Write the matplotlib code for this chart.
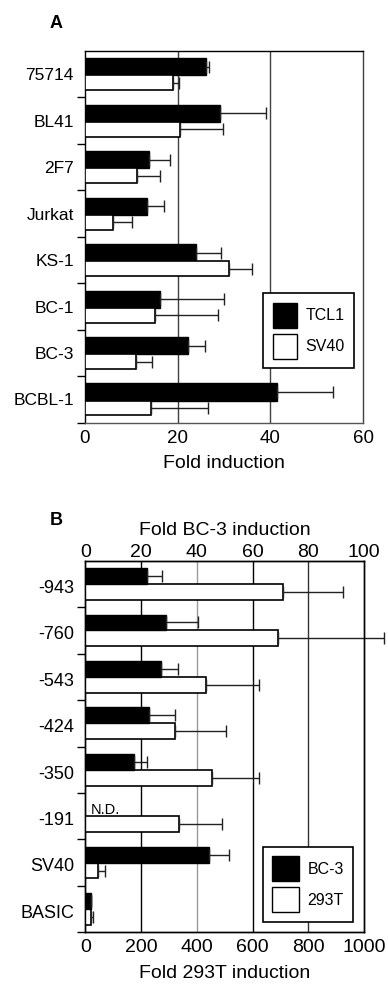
import matplotlib
matplotlib.use('Agg')
import matplotlib.pyplot as plt
import numpy as np
from matplotlib.patches import Patch

plt.rcParams['font.family'] = ['Liberation Sans', 'DejaVu Sans']

# ---------------- Panel A data ----------------
cells = ['75714', 'BL41', '2F7', 'Jurkat', 'KS-1', 'BC-1', 'BC-3', 'BCBL-1']
tcl1 = [26.1, 29.2, 13.8, 13.4, 24.0, 16.2, 22.3, 41.4]
tcl1_err = [0.7, 9.8, 4.6, 3.7, 5.4, 13.8, 3.5, 12.2]
sv40 = [19.1, 20.5, 11.2, 6.0, 31.0, 15.1, 11.0, 14.2]
sv40_err = [1.2, 9.3, 5.0, 4.1, 5.0, 13.7, 3.5, 12.3]
a_ticks = [0, 20, 40, 60]

# ---------------- Panel B data ----------------
constructs = ['-943', '-760', '-543', '-424', '-350', '-191', 'SV40', 'BASIC']
bc3 = [22.0, 28.8, 27.2, 22.9, 17.6, np.nan, 44.5, 2.0]
bc3_err = [5.4, 11.6, 6.2, 9.3, 4.5, np.nan, 6.9, 0.0]
t293 = [710, 690, 433, 322, 454, 337, 44, 22]
t293_err = [213, 382, 190, 184, 168, 155, 27, 7]
b_bottom_ticks = [0, 200, 400, 600, 800, 1000]
b_top_ticks = [0, 20, 40, 60, 80, 100]

W, H = 388, 988
fig = plt.figure(figsize=(W / 100, H / 100), dpi=100)

def frac(left, top, right, bottom):
    return [left / W, 1 - bottom / H, (right - left) / W, (bottom - top) / H]

err_kw = dict(fmt='none', ecolor='#222222', elinewidth=1, capsize=4, capthick=1)

# ================= Panel A =================
axA = fig.add_axes(frac(85, 51, 363, 422.7))
n = len(cells)
y = np.arange(n)
for xv in [20, 40]:
    axA.axvline(xv, color='#404040', lw=1, zorder=1)
axA.barh(y + 0.34, tcl1, height=0.37, color='black', edgecolor='black', lw=1, zorder=3)
axA.barh(y + 0.685, sv40, height=0.32, color='white', edgecolor='black', lw=1.2, zorder=3)
axA.errorbar(tcl1, y + 0.34, xerr=[np.zeros(n), tcl1_err], zorder=4, **err_kw)
axA.errorbar(sv40, y + 0.685, xerr=[np.zeros(n), sv40_err], zorder=4, **err_kw)
axA.set_xlim(0, 60)
axA.set_ylim(n, 0)
axA.set_xticks(a_ticks)
axA.tick_params(axis='x', length=0, labelsize=13.5, pad=5)
axA.set_yticks(np.arange(1, n + 1))
axA.set_yticklabels([])
axA.tick_params(axis='y', which='major', direction='out', length=6, width=1)
axA.set_yticks(y + 0.5, minor=True)
axA.set_yticklabels(cells, minor=True, fontsize=12.5)
axA.tick_params(axis='y', which='minor', length=0, pad=8)
axA.set_xlabel('Fold induction', fontsize=14, labelpad=6)
for s in axA.spines.values():
    s.set_linewidth(1)
axA.spines['right'].set_color('#404040')
axA.spines['bottom'].set_color('#555555')
legA = axA.legend(handles=[Patch(facecolor='black', edgecolor='black', label='TCL1'),
                           Patch(facecolor='white', edgecolor='black', label='SV40')],
                  loc='lower left', bbox_to_anchor=(0.641, 0.1464), borderaxespad=0,
                  fontsize=11.5, handlelength=1.5, handleheight=2.0, handletextpad=0.55,
                  labelspacing=0.4, borderpad=0.6, fancybox=False, edgecolor='black',
                  framealpha=1)
legA.get_frame().set_linewidth(1.2)
legA.set_zorder(10)
fig.text(50 / W, 1 - 28 / H, 'A', fontsize=13, fontweight='bold', va='baseline')

# ================= Panel B =================
axB = fig.add_axes(frac(85.3, 560.7, 364, 932.3))
m = len(constructs)
yb = np.arange(m)
for xv, c in zip([200, 400, 600, 800], ['black', '#999999', 'black', '#333333']):
    axB.axvline(xv, color=c, lw=1, zorder=1)
axB.barh(yb + 0.67, t293, height=0.34, color='white', edgecolor='black', lw=1.2, zorder=3)
axB.errorbar(t293, yb + 0.67, xerr=[np.zeros(m), t293_err], zorder=4, clip_on=False, **err_kw)
axB.set_xlim(0, 1000)
axB.set_ylim(m, 0)
axB.set_xticks(b_bottom_ticks)
axB.tick_params(axis='x', length=0, labelsize=14, pad=5)
axB.set_yticks(np.arange(1, m + 1))
axB.set_yticklabels([])
axB.tick_params(axis='y', which='major', direction='out', length=6, width=1)
axB.set_yticks(yb + 0.55, minor=True)
axB.set_yticklabels(constructs, minor=True, fontsize=13)
axB.tick_params(axis='y', which='minor', length=0, pad=8)
axB.set_xlabel('Fold 293T induction', fontsize=14, labelpad=6)

axT = axB.twiny()
axT.set_xlim(0, 100)
axT.set_xticks(b_top_ticks)
axT.tick_params(axis='x', length=0, labelsize=14, pad=0)
axT.barh(yb + 0.33, bc3, height=0.34, color='black', edgecolor='black', lw=1, zorder=3)
axT.errorbar(bc3, yb + 0.33, xerr=[np.zeros(m), bc3_err], zorder=4, **err_kw)
axT.text(2, 5 + 0.37, 'N.D.', fontsize=10.5, va='center', ha='left')
axT.set_xlabel('Fold BC-3 induction', fontsize=14, labelpad=6)
for a in (axB, axT):
    for s in a.spines.values():
        s.set_linewidth(1)
legB = axT.legend(handles=[Patch(facecolor='black', edgecolor='black', label='BC-3'),
                           Patch(facecolor='white', edgecolor='black', label='293T')],
                  loc='lower left', bbox_to_anchor=(0.6365, 0.0285), borderaxespad=0,
                  fontsize=11.5, handlelength=1.65, handleheight=2.0, handletextpad=0.55,
                  labelspacing=0.4, borderpad=0.6, fancybox=False, edgecolor='black',
                  framealpha=1)
legB.get_frame().set_linewidth(1.2)
legB.set_zorder(10)
fig.text(50 / W, 1 - 525 / H, 'B', fontsize=13, fontweight='bold', va='baseline')

fig.savefig('out.png', dpi=100)
